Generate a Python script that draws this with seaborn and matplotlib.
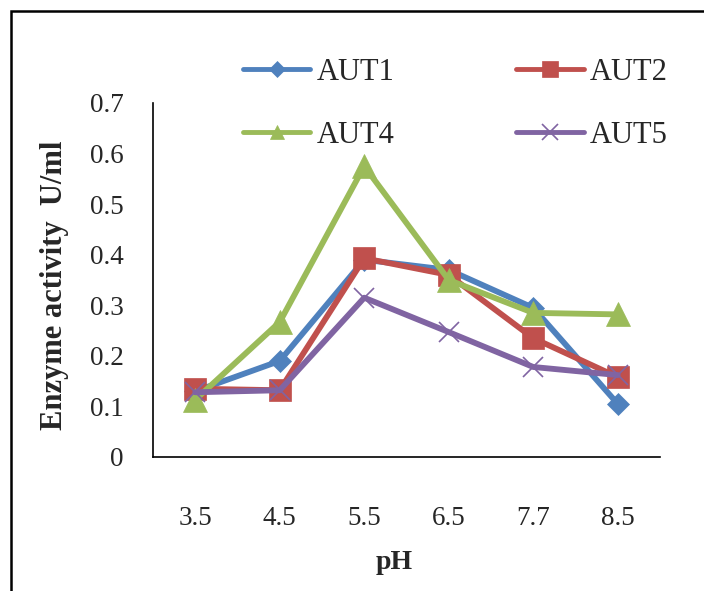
import pandas as pd
import seaborn as sns
import matplotlib.pyplot as plt
from matplotlib.patches import Rectangle

# Values
ph_labels = ['3.5', '4.5', '5.5', '6.5', '7.7', '8.5']
aut1 = [0.13, 0.19, 0.39, 0.37, 0.295, 0.105]
aut2 = [0.135, 0.132, 0.393, 0.36, 0.235, 0.158]
aut4 = [0.113, 0.267, 0.575, 0.35, 0.285, 0.282]
aut5 = [0.128, 0.132, 0.315, 0.247, 0.178, 0.162]

series = {'AUT1': aut1, 'AUT2': aut2, 'AUT4': aut4, 'AUT5': aut5}
colors = {'AUT1': '#4F81BD', 'AUT2': '#C0504D', 'AUT4': '#9BBB59', 'AUT5': '#8064A2'}
markers = {'AUT1': 'D', 'AUT2': 's', 'AUT4': '^', 'AUT5': 'x'}
msize = {'AUT1': 11, 'AUT2': 16, 'AUT4': 17, 'AUT5': 15}
leg_msize = {'AUT1': 8, 'AUT2': 11, 'AUT4': 10, 'AUT5': 11}

rows = []
for name, vals in series.items():
    for i, v in enumerate(vals):
        rows.append({'pos': i, 'pH': ph_labels[i], 'activity': v, 'strain': name})
df = pd.DataFrame(rows)

sns.set_style('white')
plt.rcParams['font.family'] = ['Liberation Serif', 'DejaVu Serif']

fig = plt.figure(figsize=(7.04, 5.91), dpi=100)
ax = fig.add_axes([153 / 704, 1 - 457 / 591, 507 / 704, 354 / 591])

for name in series:
    sub = df[df['strain'] == name]
    sns.lineplot(data=sub, x='pos', y='activity', ax=ax, color=colors[name],
                 marker=markers[name], markersize=msize[name], linewidth=4.2,
                 markeredgecolor=colors[name], markeredgewidth=1.2 if name == 'AUT5' else 0.5,
                 label=name, legend=False)

ax.set_xlim(-0.5, 5.5)
ax.set_ylim(0, 0.7)
ax.set_yticks([0, 0.1, 0.2, 0.3, 0.4, 0.5, 0.6, 0.7])
ax.set_yticklabels(['0', '0.1', '0.2', '0.3', '0.4', '0.5', '0.6', '0.7'])
ax.tick_params(axis='y', direction='in', length=6, width=1, pad=21, labelsize=19.5)

# boundary ticks without labels, category labels on minor ticks
ax.set_xticks([-0.5, 0.5, 1.5, 2.5, 3.5, 4.5, 5.5])
ax.set_xticklabels([])
ax.set_xticks(range(len(ph_labels)), minor=True)
ax.set_xticklabels(ph_labels, minor=True)
ax.tick_params(axis='x', which='major', direction='in', length=8, width=1)
ax.tick_params(axis='x', which='minor', length=0, pad=35, labelsize=19.5)

for side in ['top', 'right']:
    ax.spines[side].set_visible(False)
for side in ['left', 'bottom']:
    ax.spines[side].set_color('black')
    ax.spines[side].set_linewidth(1.2)

ax.set_xlabel('pH', fontsize=20, fontweight='bold')
ax.xaxis.set_label_coords(0.475, -0.262)
ax.set_ylabel('Enzyme activity  U/ml', fontsize=22, fontweight='bold')
ax.yaxis.set_label_coords(-0.165, 0.486)

handles, labels = ax.get_legend_handles_labels()
order = [0, 2, 1, 3]  # column-major fill -> AUT1 AUT2 / AUT4 AUT5 rows
handles = [handles[i] for i in order]
labels = [labels[i] for i in order]
leg = fig.legend(handles, labels, loc='upper left', ncol=2,
                 bbox_to_anchor=(243 / 704, 1 - 58 / 591), frameon=False,
                 fontsize=22, handlelength=2.2, handletextpad=0.2,
                 columnspacing=4.0, labelspacing=1.11, borderpad=0, borderaxespad=0)
for h, lab in zip(leg.legend_handles, labels):
    h.set_markersize(leg_msize[lab])
    h.set_linewidth(3.5)

# outer frame
fig.add_artist(Rectangle((11 / 704, -0.05), 1.0, 1.05 - 11 / 591, transform=fig.transFigure,
                         fill=False, edgecolor='black', linewidth=1.8))

fig.savefig('out.png', dpi=100)
